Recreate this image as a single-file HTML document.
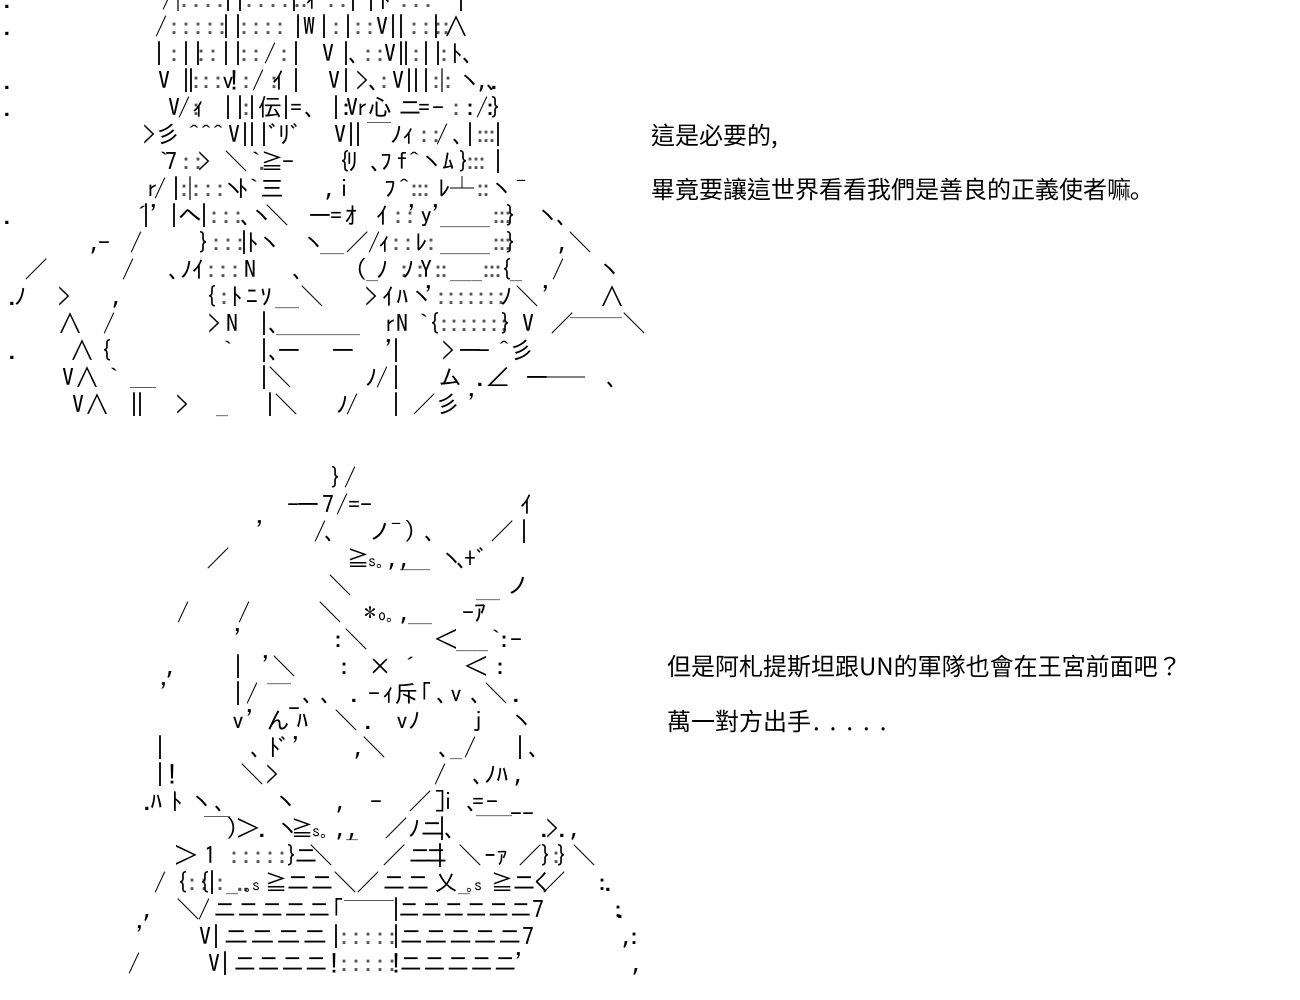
<!DOCTYPE html>
<html><head><meta charset="utf-8"><style>
html,body{margin:0;padding:0;background:#fff;width:1300px;height:1000px;overflow:hidden}
svg{display:block}
text{font-family:"IPAGothic","WenQuanYi Zen Hei","Noto Sans CJK JP",monospace;font-size:24px;fill:#000;white-space:pre}
.d{letter-spacing:-6px;fill:#555}
.e{letter-spacing:-2px;fill:#555}
.s{letter-spacing:-6px}
.v{letter-spacing:-1px}
.z text{font-family:"WenQuanYi Zen Hei","Noto Sans CJK TC","Liberation Sans",sans-serif}
</style></head><body>
<svg width="1300" height="1000" viewBox="0 0 1300 1000" xmlns="http://www.w3.org/2000/svg">
<g class="z">
<text x="651" y="144">這是必要的,</text>
<text x="651" y="198">畢竟要讓這世界看看我們是善良的正義使者嘛</text>
<text x="1130" y="198">｡</text>
<text x="667" y="675">但是阿札提斯坦跟UN的軍隊也會在王宮前面吧？</text>
<text x="667" y="730">萬一對方出手</text>
<text x="813" y="730" letter-spacing="10">.....</text>
</g>
<!-- top art -->
<g transform="translate(0,8)"><text x="3" class="s">.</text><text x="162">/</text><text x="172" class="d">|: : : :</text><text x="222">||</text><text x="243" class="d">: : : : :</text><text x="288">|</text><text x="298" class="d">: </text><text x="305">ｨ</text><text x="325" class="d">: :</text><text x="347">|</text><text x="365">|</text><text x="378">ﾄ</text><text x="398" class="d">: : :</text><text x="455">|</text></g>
<g transform="translate(0,35)"><text x="3" class="s">.</text><text x="155">/</text><text x="168" class="d">: : : : :</text><text x="220">||</text><text x="238" class="d">: : : :</text><text x="292">|</text><text x="303" class="s">W</text><text x="318">|</text><text x="330" class="d">:</text><text x="342">|</text><text x="352" class="d">: :</text><text x="376" class="v">V|</text><text x="395">|</text><text x="408" class="d">: : :</text><text x="430">|</text><text x="440" class="d">:</text><text x="444">∧</text></g>
<g transform="translate(0,62)"><text x="153">|</text><text x="168" class="d">:</text><text x="180">||</text><text x="195" class="d">: :</text><text x="220">||</text><text x="238" class="d">: :</text><text x="264">/</text><text x="278" class="d">:</text><text x="290">|</text><text x="322" class="s">V</text><text x="340">|</text><text x="348">､</text><text x="362" class="d">: :</text><text x="384" class="v">V|</text><text x="400">|</text><text x="410" class="d">:</text><text x="420">||</text><text x="438" class="d">:</text><text x="450">ﾄ</text><text x="462">､</text></g>
<g transform="translate(0,89)"><text x="3" class="s">.</text><text x="158" class="s">V</text><text x="180">|</text><text x="190" class="d">:</text><text x="185">|</text><text x="200" class="d">: :</text><text x="222" class="s">v!</text><text x="240" class="d">:</text><text x="252">/</text><text x="268" class="d">:</text><text x="272">ｲ</text><text x="290">|</text><text x="328" class="s">V</text><text x="340">|</text><text x="356" class="s">&gt;</text><text x="368">､</text><text x="378" class="d">:</text><text x="392" class="v">V|</text><text x="410">|</text><text x="420">|</text><text x="430" class="d">:|:</text><text x="458">ヽ</text><text x="478">,.</text><text x="486">､</text></g>
<g transform="translate(0,116)"><text x="3" class="s">.</text><text x="168" class="s">V</text><text x="178">/</text><text x="190" class="d">:</text><text x="192">ｨ</text><text x="222">||</text><text x="240" class="d">:</text><text x="246">|</text><text x="258">伝</text><text x="280">|</text><text x="290">=</text><text x="304">､</text><text x="330">|</text><text x="340" class="s">:V</text><text x="356">r</text><text x="368">心</text><text x="398">ニ</text><text x="418">=</text><text x="432">-</text><text x="450" class="d">:</text><text x="464">:/</text><text x="484" class="s">:}</text></g>
<g transform="translate(0,143)"><text x="143" class="s">&gt;</text><text x="156">彡</text><text x="188">^^^</text><text x="228" class="v">V|</text><text x="246">|</text><text x="258">|</text><text x="268">ﾞ</text><text x="278">ﾘ</text><text x="290">ﾞ</text><text x="334" class="v">V|</text><text x="352">|</text><text x="367">￣</text><text x="390">ﾉ</text><text x="402">ｨ</text><text x="418" class="d">: :</text><text x="436">/</text><text x="452">､</text><text x="464">|</text><text x="474" class="d">:::</text><text x="492">|</text></g>
<g transform="translate(0,170)"><text x="158">`</text><text x="165">7</text><text x="180" class="d">: :</text><text x="198" class="s">&gt;</text><text x="224">＼</text><text x="250">`</text><text x="258" class="d">.</text><text x="260">≧</text><text x="282">-</text><text x="338">{</text><text x="346">ﾘ</text><text x="370">､</text><text x="380">ﾌ</text><text x="396">f</text><text x="408">^</text><text x="420">ヽ</text><text x="442">ﾑ</text><text x="458">}</text><text x="464" class="d">:::</text><text x="492">|</text></g>
<g transform="translate(0,197)"><text x="146">r</text><text x="154">/</text><text x="170">|</text><text x="178" class="d">:|: : :</text><text x="222">ヽ</text><text x="236">ﾄ</text><text x="248">`</text><text x="260">三</text><text x="325">,</text><text x="338">i</text><text x="384">ﾌ</text><text x="398">^</text><text x="408" class="d">:::</text><text x="438">ﾚ</text><text x="450">┴</text><text x="474" class="d">::</text><text x="490">ヽ</text><text x="515">¯</text></g>
<g transform="translate(0,224)"><text x="3" class="s">.</text><text x="130">´</text><text x="140">|</text><text x="150">'</text><text x="168">|</text><text x="178">ヘ</text><text x="198">|</text><text x="208" class="d">: : :</text><text x="240">､</text><text x="250">ヽ</text><text x="265">＼</text><text x="308">ー</text><text x="330">=</text><text x="345">ｵ</text><text x="376">ｲ</text><text x="392" class="d">: :</text><text x="408">'y'</text><text x="440" lengthAdjust="spacingAndGlyphs" textLength="50">____</text><text x="490" class="d">:::</text><text x="505">}</text><text x="536">ヽ</text><text x="556">､</text></g>
<g transform="translate(0,251)"><text x="90">,</text><text x="98">-</text><text x="130">/</text><text x="198">}</text><text x="210" class="d">: : :</text><text x="238">|</text><text x="246">ﾄ</text><text x="258">ヽ</text><text x="302">ヽ</text><text x="320">__</text><text x="345">／</text><text x="368">/</text><text x="378">ｨ</text><text x="390" class="d">: :</text><text x="415">ﾚ</text><text x="425" class="d">:</text><text x="440" lengthAdjust="spacingAndGlyphs" textLength="50">____</text><text x="490" class="d">:::</text><text x="505">}</text><text x="558">,</text><text x="568">＼</text></g>
<g transform="translate(0,278)"><text x="24">／</text><text x="122">/</text><text x="168">､</text><text x="180">ﾉ</text><text x="192">ｲ</text><text x="205" class="d">: : :</text><text x="244">N</text><text x="292">､</text><text x="355">(</text><text x="366">_</text><text x="376">ﾉ</text><text x="398" class="d">:</text><text x="402">ﾉ</text><text x="414" class="d">:</text><text x="420">Y</text><text x="432" class="d">::</text><text x="450" lengthAdjust="spacingAndGlyphs" textLength="32">___</text><text x="480" class="d">:::</text><text x="500">{</text><text x="510">_</text><text x="552">/</text><text x="598">ヽ</text></g>
<g transform="translate(0,305)"><text x="8">.</text><text x="14">ﾉ</text><text x="58" class="s">&gt;</text><text x="112">,</text><text x="205">{</text><text x="218" class="d">:</text><text x="230">ﾄ</text><text x="246">ﾆ</text><text x="260">ｿ</text><text x="275">__</text><text x="300">＼</text><text x="365" class="s">&gt;</text><text x="382">ｲ</text><text x="396">ﾊ</text><text x="410">ヽ</text><text x="425">'</text><text x="435" class="e">:::::::</text><text x="500">ﾉ</text><text x="515">＼</text><text x="542">'</text><text x="600">∧</text></g>
<g transform="translate(0,332)"><text x="58">∧</text><text x="103">/</text><text x="208" class="s">&gt;</text><text x="226">N</text><text x="258">|</text><text x="268">､</text><text x="276" lengthAdjust="spacingAndGlyphs" textLength="84">_______</text><text x="384">r</text><text x="396">N</text><text x="418">`</text><text x="428">{</text><text x="438" class="e">:::::::</text><text x="500">}</text><text x="522" class="s">V</text><text x="550">／</text><text x="622">＼</text></g>
<g transform="translate(0,359)"><text x="8">.</text><text x="70">∧</text><text x="100">{</text><text x="222">`</text><text x="258">|</text><text x="268">､</text><text x="277">ー</text><text x="331">ー</text><text x="385">'</text><text x="390">|</text><text x="442" class="s">&gt;</text><text x="458">ー</text><text x="478">-</text><text x="498">^</text><text x="510">彡</text></g>
<text x="570" y="315" lengthAdjust="spacingAndGlyphs" textLength="52">____</text>
<g transform="translate(0,386)"><text x="62" class="s">V</text><text x="75">∧</text><text x="108">`</text><text x="258">|</text><text x="268">＼</text><text x="365">ﾉ</text><text x="376">/</text><text x="390">|</text><text x="438">ム</text><text x="476">.</text><text x="486">∠</text><text x="525">ー</text><text x="545" lengthAdjust="spacingAndGlyphs" textLength="40">──</text><text x="606">､</text></g>
<g transform="translate(0,413)"><text x="72" class="s">V</text><text x="85">∧</text><text x="128" class="s">||</text><text x="130" y="-5" lengthAdjust="spacingAndGlyphs" textLength="26">￣</text><text x="176" class="s">&gt;</text><text x="216">_</text><text x="264">|</text><text x="274">＼</text><text x="336">ﾉ</text><text x="346">/</text><text x="390">|</text><text x="412">／</text><text x="436">彡</text><text x="468">'</text></g>
<!-- bottom art -->
<g transform="translate(0,486)"><text x="330">}</text><text x="344">/</text></g>
<g transform="translate(0,513)"><text x="287">-</text><text x="296">ー</text><text x="322">7</text><text x="336">/</text><text x="348">=</text><text x="360">-</text><text x="520">ｲ</text></g>
<g transform="translate(0,540)"><text x="256">'</text><text x="314">/</text><text x="324">､</text><text x="368">ノ</text><text x="390">¯</text><text x="404">)</text><text x="424">､</text><text x="490">／</text><text x="518">|</text></g>
<g transform="translate(0,567)"><text x="206">／</text><text x="346">≧</text><text x="368" style="font-size:16px">s｡</text><text x="388">,,</text><text x="400" lengthAdjust="spacingAndGlyphs" textLength="30">___</text><text x="440">ヽ</text><text x="456">､</text><text x="464">+</text><text x="476">ﾞ</text></g>
<g transform="translate(0,594)"><text x="328">＼</text><text x="506">ノ</text></g>
<g transform="translate(0,597)"><text x="476" lengthAdjust="spacingAndGlyphs" textLength="24">__</text></g>
<g transform="translate(0,621)"><text x="177">/</text><text x="238">/</text><text x="318">＼</text><text x="364">*</text><text x="378" style="font-size:16px">o｡</text><text x="400">,</text><text x="408" lengthAdjust="spacingAndGlyphs" textLength="24">__</text><text x="462">-</text><text x="474">ｱ</text></g>
<g transform="translate(0,648)"><text x="234">'</text><text x="344">＼</text><text x="332">:</text><text x="434">＜</text><text x="456" lengthAdjust="spacingAndGlyphs" textLength="32">___</text><text x="490">`</text><text x="498">:-</text></g>
<g transform="translate(0,675)"><text x="166">,</text><text x="232">|</text><text x="262">'</text><text x="272">＼</text><text x="338">:</text><text x="368">×</text><text x="398">´</text><text x="464">＜</text><text x="494">:</text></g>
<g transform="translate(0,702)"><text x="160">'</text><text x="232">|</text><text x="246">/</text><text x="267" y="-21" lengthAdjust="spacingAndGlyphs" textLength="24">__</text><text x="302">､</text><text x="320">､</text><text x="350">.</text><text x="368">-</text><text x="382">ｨ</text><text x="394">斥</text><text x="420">｢</text><text x="436">､</text><text x="450">v</text><text x="470">､</text><text x="484">＼</text><text x="512">.</text></g>
<g transform="translate(0,729)"><text x="232">v</text><text x="246">'</text><text x="266">ん</text><text x="296">ﾊ</text><text x="288" y="-12">-</text><text x="334">＼</text><text x="364">.</text><text x="396">v</text><text x="408">ﾉ</text><text x="472">j</text><text x="510">ヽ</text></g>
<g transform="translate(0,756)"><text x="154">|</text><text x="250">､</text><text x="268">ﾄ</text><text x="278">ﾞ</text><text x="292">'</text><text x="362">＼</text><text x="354">,</text><text x="438">､</text><text x="450">_</text><text x="464">/</text><text x="514">|</text><text x="528">､</text></g>
<g transform="translate(0,783)"><text x="154">|!</text><text x="240">＼</text><text x="266">&gt;</text><text x="434">/</text><text x="472">､</text><text x="484">ﾉ</text><text x="496">ﾊ</text><text x="514">,</text></g>
<g transform="translate(0,810)"><text x="143">.</text><text x="150">ﾊ</text><text x="170">ﾄ</text><text x="190">ヽ</text><text x="214">､</text><text x="274">ヽ</text><text x="336">,</text><text x="370">-</text><text x="408">／</text><text x="434">]</text><text x="442">i</text><text x="466">､</text><text x="472">=</text><text x="486">-</text></g>
<g transform="translate(0,837)"><text x="204" lengthAdjust="spacingAndGlyphs" textLength="26">￣</text><text x="226">)</text><text x="236">＞</text><text x="258">.</text><text x="276">ヽ</text><text x="290">≧</text><text x="312" style="font-size:16px">s｡</text><text x="336">,,</text><text x="346">_</text><text x="384">／</text><text x="408">ﾉ</text><text x="420">ニ</text><text x="436">|</text><text x="444">､</text><text x="476" y="-24" lengthAdjust="spacingAndGlyphs" textLength="36">___</text><text x="510" y="-15">--</text><text x="540">.</text><text x="546">&gt;</text><text x="558">.,</text></g>
<g transform="translate(0,864)"><text x="174">＞</text><text x="204">1</text><text x="228" class="d">: : : : :</text><text x="286">}</text><text x="294">ニ</text><text x="309">＼</text><text x="382">／</text><text x="408">ニ</text><text x="424">ニ</text><text x="434">|</text><text x="458">＼</text><text x="484">ｰ</text><text x="496">ｧ</text><text x="518">／</text><text x="540">}</text><text x="550" class="d">:</text><text x="556">}</text><text x="572">＼</text></g>
<g transform="translate(0,891)"><text x="154">/</text><text x="176">{</text><text x="186" class="d">: :</text><text x="198">{</text><text x="206">|</text><text x="214" class="d">:</text><text x="226">_</text><text x="236" class="d">..</text><text x="244" style="font-size:16px">｡s</text><text x="264">≧</text><text x="286">ニ</text><text x="310">ニ</text><text x="333">＼</text><text x="356">／</text><text x="382">ニ</text><text x="406">ニ</text><text x="434">乂</text><text x="458">_</text><text x="466" style="font-size:16px">｡s</text><text x="490">≧</text><text x="512">ニ</text><text x="530">く</text><text x="542">／</text><text x="596">:</text><text x="604">.</text></g>
<g transform="translate(0,918)"><text x="143">,</text><text x="176">＼</text><text x="198">/</text><text x="213" lengthAdjust="spacingAndGlyphs" textLength="118">ニニニニニ</text><text x="332">｢</text><text x="344" y="3" lengthAdjust="spacingAndGlyphs" textLength="50">￣￣</text><text x="390">|</text><text x="398" lengthAdjust="spacingAndGlyphs" textLength="134">ニニニニニニ</text><text x="532">7</text><text x="612">:</text><text x="616">.</text></g>
<g transform="translate(0,945)"><text x="136">'</text><text x="199" class="v">V|</text><text x="223" lengthAdjust="spacingAndGlyphs" textLength="105">ニニニニ</text><text x="330">|</text><text x="338" class="d">: : : : :</text><text x="390">|</text><text x="399" lengthAdjust="spacingAndGlyphs" textLength="123">ニニニニニ</text><text x="522">7</text><text x="622">,</text><text x="628">:</text></g>
<g transform="translate(0,972)"><text x="128">/</text><text x="208" class="v">V|</text><text x="233" lengthAdjust="spacingAndGlyphs" textLength="95">ニニニニ</text><text x="328">!</text><text x="338" class="d">: : : : :</text><text x="390">!</text><text x="399" lengthAdjust="spacingAndGlyphs" textLength="118">ニニニニニ</text><text x="515">'</text><text x="632">,</text></g>
</svg>
</body></html>
